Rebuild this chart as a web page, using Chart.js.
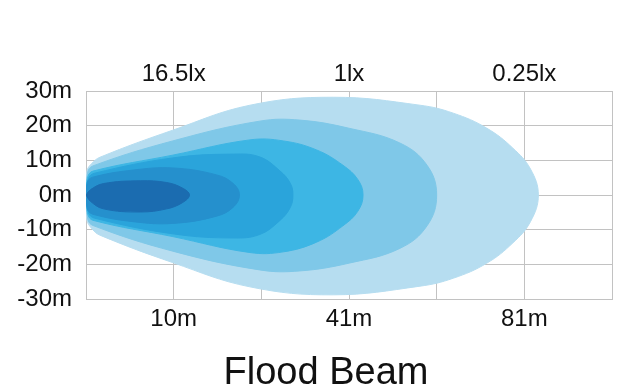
<!DOCTYPE html>
<html>
<head>
<meta charset="utf-8">
<script src="https://cdn.jsdelivr.net/npm/chart.js@4.4.1/dist/chart.umd.min.js"></script>
<style>
  body { margin: 0; background: #fff; }
  #wrap { width: 627px; height: 389px; }
</style>
</head>
<body>
<div id="wrap"><canvas id="beamChart" width="627" height="389"></canvas></div>
<script>
// tick labels (x runs over 6 grid cells)
const bottomLabels = ['', '10m', '', '41m', '', '81m', ''];
const topLabels = ['', '16.5lx', '', '1lx', '', '0.25lx', ''];
const titleText = 'Flood Beam';

// beam outlines: x position, upper edge (m), lower edge (m)
const b6x = [0, 0.01, 0.07, 0.16, 0.99, 1.87, 2.82, 3.81, 4.19, 4.57, 4.87, 5.07, 5.16];
const b6up = [0, 6.9, 9.2, 10.9, 18.7, 25.9, 28.2, 25.9, 23.6, 19.3, 13.5, 7.5, 0];
const b6down = [0, -7.2, -9.8, -11.6, -19.5, -26.5, -28.8, -26.3, -24.0, -19.7, -13.8, -7.7, 0];

const b5x = [0, 0.02, 0.08, 0.99, 1.98, 2.44, 3.01, 3.58, 3.89, 4.0];
const b5up = [0, 6.6, 8.4, 15.6, 21.3, 21.6, 19.2, 15.0, 8.6, 0];
const b5down = [0, -6.9, -8.8, -16.2, -21.6, -21.9, -19.6, -15.4, -8.9, 0];

const b4x = [0, 0.02, 0.08, 0.99, 1.87, 2.25, 2.63, 2.93, 3.1, 3.16];
const b4up = [0, 5.2, 6.9, 11.5, 15.9, 15.6, 13.0, 8.6, 4.5, 0];
const b4down = [0, -5.5, -7.3, -12.0, -16.6, -16.4, -13.6, -8.9, -4.7, 0];

const b3x = [0, 0.03, 0.1, 0.99, 1.68, 1.98, 2.21, 2.33, 2.36];
const b3up = [0, 4.9, 6.3, 10.7, 11.8, 11.0, 7.0, 3.4, 0];
const b3down = [0, -5.2, -6.7, -11.2, -12.4, -11.4, -7.4, -3.6, 0];

const b2x = [0, 0.02, 0.1, 0.54, 0.99, 1.49, 1.68, 1.75];
const b2up = [0, 4.0, 5.3, 7.2, 7.8, 5.8, 3.3, 0];
const b2down = [0, -4.3, -5.7, -7.7, -8.2, -6.1, -3.5, 0];

const b1x = [0, 0.05, 0.2, 0.62, 0.92, 1.1, 1.18];
const b1up = [0, 1.5, 3.3, 4.1, 3.6, 2.0, 0];
const b1down = [0, -1.8, -4.0, -4.9, -4.0, -2.2, 0];

// closed outline: along the top left to right, then back along the bottom
function outline(xs, up, down) {
  const pts = xs.map((x, i) => ({ x: x, y: up[i] }));
  for (let i = xs.length - 2; i >= 0; i--) pts.push({ x: xs[i], y: down[i] });
  return pts;
}

function beam(xs, up, down, color) {
  return {
    data: outline(xs, up, down),
    showLine: true,
    fill: 'shape',
    backgroundColor: color,
    borderColor: color,
    borderWidth: 1,
    pointRadius: 0,
    tension: 0.4
  };
}

const fontFamily = 'Arial, "Liberation Sans", Helvetica, sans-serif';
const gridColor = '#c2c2c2';

// title sits under the chart, a little left of the plot centre
const bottomTitle = {
  id: 'bottomTitle',
  afterDraw(chart) {
    const ctx = chart.ctx;
    ctx.save();
    ctx.font = '38px ' + fontFamily;
    ctx.fillStyle = '#111';
    ctx.textAlign = 'center';
    ctx.textBaseline = 'alphabetic';
    ctx.fillText(titleText, 326, 384);
    ctx.restore();
  }
};

// innermost first so it is drawn on top
const beamConfig = {
  type: 'scatter',
  data: {
    datasets: [
      beam(b1x, b1up, b1down, '#1b6cb0'),
      beam(b2x, b2up, b2down, '#2590cd'),
      beam(b3x, b3up, b3down, '#2aa4db'),
      beam(b4x, b4up, b4down, '#3db6e4'),
      beam(b5x, b5up, b5down, '#7fc8e8'),
      beam(b6x, b6up, b6down, '#b6ddf0')
    ]
  },
  options: {
    responsive: false,
    animation: false,
    layout: { padding: { left: 0, right: 15, top: 0, bottom: 0 } },
    plugins: {
      legend: { display: false },
      tooltip: { enabled: false }
    },
    scales: {
      x: {
        type: 'linear',
        min: 0,
        max: 6,
        afterFit: (axis) => { axis.height = 90; },
        grid: { color: gridColor, drawTicks: false },
        border: { color: gridColor },
        ticks: {
          stepSize: 1,
          autoSkip: false,
          maxRotation: 0,
          padding: 6,
          color: '#111',
          font: { family: fontFamily, size: 24 },
          callback: (v) => bottomLabels[v]
        }
      },
      x2: {
        type: 'linear',
        axis: 'x',
        position: 'top',
        min: 0,
        max: 6,
        afterFit: (axis) => { axis.height = 91; },
        grid: { display: false },
        border: { color: gridColor },
        ticks: {
          stepSize: 1,
          autoSkip: false,
          maxRotation: 0,
          padding: -6,
          color: '#111',
          font: { family: fontFamily, size: 24 },
          callback: (v) => topLabels[v]
        }
      },
      y: {
        min: -30,
        max: 30,
        afterFit: (axis) => { axis.width = 86; },
        grid: { color: gridColor, drawTicks: false },
        border: { color: gridColor },
        ticks: {
          stepSize: 10,
          padding: 14,
          color: '#111',
          font: { family: fontFamily, size: 24 },
          callback: (v) => v + 'm'
        }
      }
    }
  },
  plugins: [bottomTitle]
};

const beamChart = new Chart(document.getElementById('beamChart'), beamConfig);
</script>
</body>
</html>
